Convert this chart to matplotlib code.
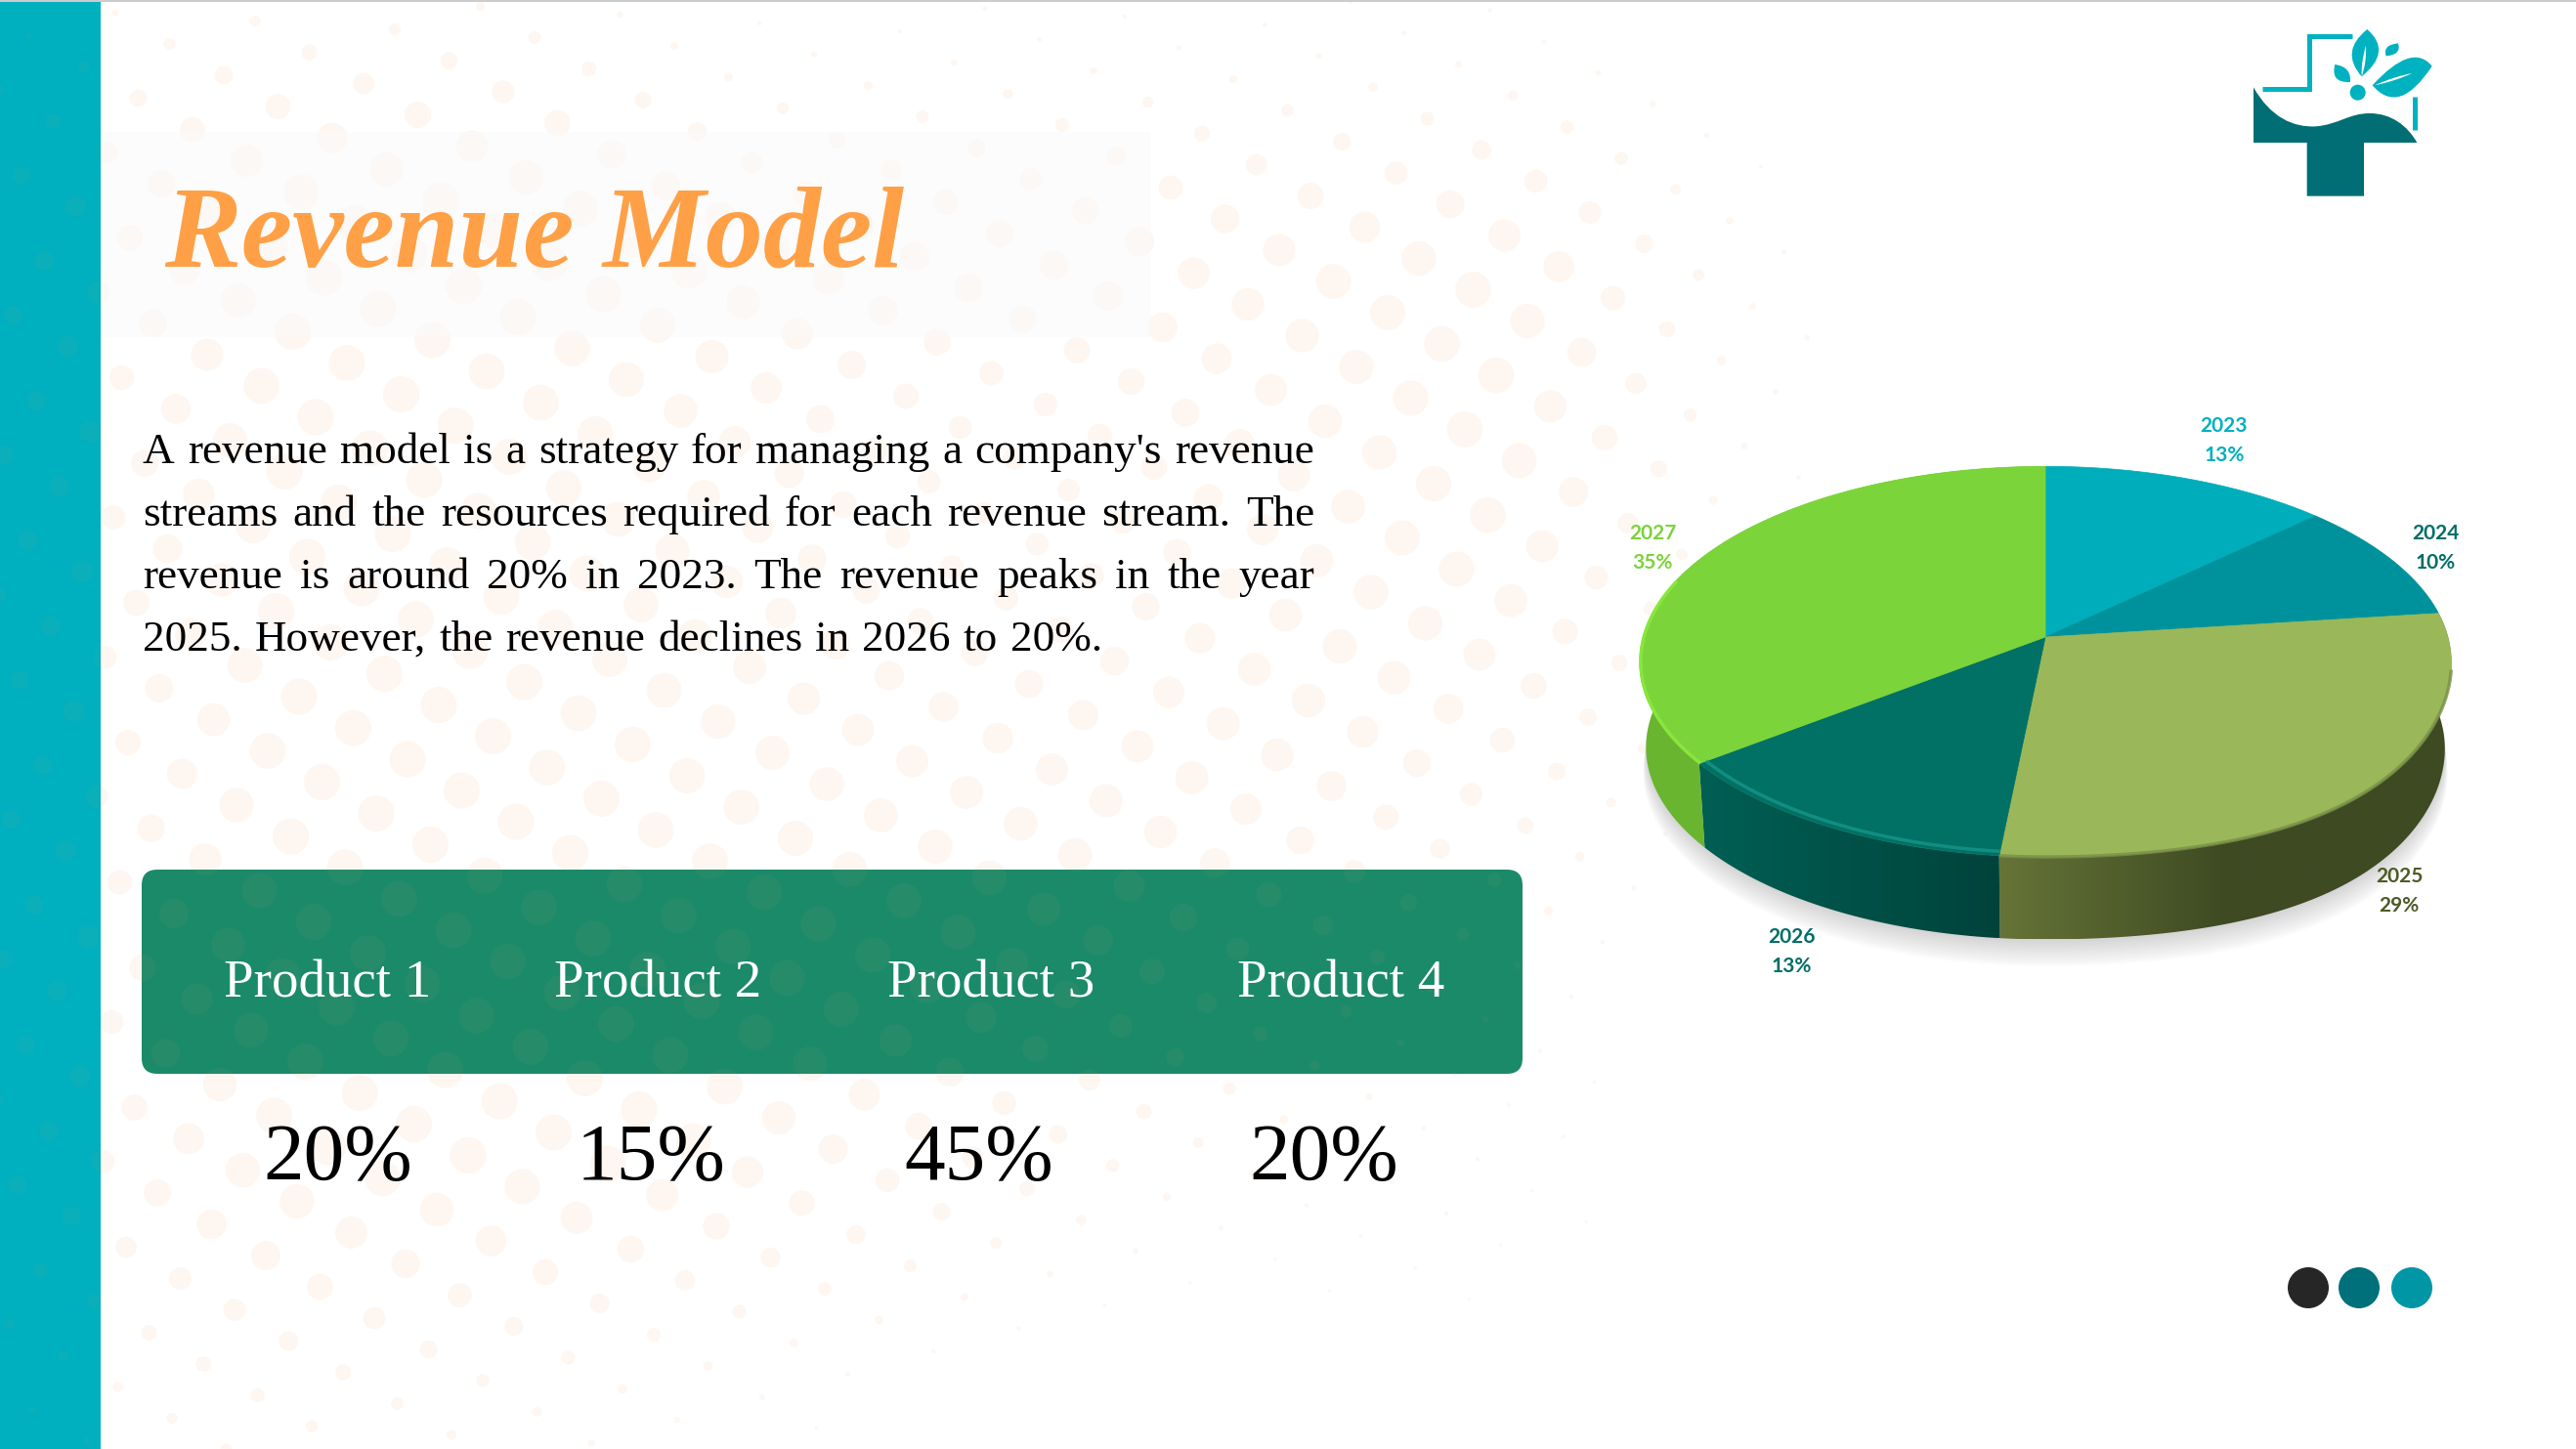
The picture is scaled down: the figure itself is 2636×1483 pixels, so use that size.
import numpy as np
import matplotlib
matplotlib.use("Agg")
import matplotlib.pyplot as plt
from matplotlib.patches import Circle, FancyBboxPatch, Rectangle, PathPatch, Polygon
from matplotlib.path import Path
from matplotlib.collections import PatchCollection
from matplotlib.colors import LinearSegmentedColormap

# data
years = ["2023", "2024", "2025", "2026", "2027"]
shares = [13, 10, 28.6, 13, 35.4]
products = ["Product 1", "Product 2", "Product 3", "Product 4"]
product_values = ["20%", "15%", "45%", "20%"]
body_lines = [
    "A revenue model is a strategy for managing a company's revenue",
    "streams and the resources required for each revenue stream. The",
    "revenue is around 20% in 2023. The revenue peaks in the year",
    "2025. However, the revenue declines in 2026 to 20%.",
]

# styles
top_colors = ["#00AEBB", "#00929C", "#9AB859", "#007164", "#7CD43B"]
label_colors = ["#00B0BF", "#006E66", "#4D5B25", "#006E66", "#7BD33A"]
label_pos = [(2276, 451), (2492, 561), (2455, 912), (1833, 974), (1691, 561)]
wall_colors = [None, None, ["#667438", "#3E4A22", "#3E4A22"], ["#005F54", "#00433B"], ["#6AB52F", "#6AB52F"]]
rim_colors = [None, None, "#7A9048", "#17958A", "#8CEB3E"]
rim_scale = [1, 1, 1.0, 0.98, 0.997]
serif = "Liberation Serif"

W, H = 2636, 1483
fig = plt.figure(figsize=(W / 100, H / 100), dpi=100, facecolor="white")
ax = fig.add_axes([0, 0, 1, 1])
ax.set_xlim(0, W)
ax.set_ylim(H, 0)
ax.axis("off")


def ramp(v, a, b):
    t = np.clip((v - a) / (b - a), 0, 1)
    return t * t * (3 - 2 * t)


# background dots, slanted grid with sizes fading to the edges
dots = []
for i in range(-30, 31):
    for j in range(-30, 31):
        x = 387 + i * 55.5 + j * -32
        y = 316 + i * 32 + j * 55.5
        if x < -40 or y < -40 or x > 1850 or y > H + 40:
            continue
        s = 0.57 * x + 0.82 * y
        r = 18.5
        r *= 0.12 + 0.88 * ramp(y + 80 * (1 - ramp(x, 500, 800)), 20, 300)
        r *= 0.12 + 0.88 * (1 - ramp(s, 1300, 1800))
        r *= 0.15 + 0.85 * (1 - ramp(x, 1520, 1830))
        r *= 0.35 + 0.65 * (1 - ramp(y, 1180, 1480))
        r *= 1 - 0.4 * np.exp(-(np.hypot(x - 1030, y - 500) / 260) ** 2)
        r *= 0.5 + 0.5 * ramp(x, 0, 300)
        if r > 1.5:
            dots.append((x, y, r))
ax.add_collection(PatchCollection([Circle((x, y), r) for x, y, r in dots],
                                  facecolor="#FEF6F0", edgecolor="none", zorder=1))
ax.add_patch(Rectangle((103, 135), 1075, 210, facecolor="#FAFAFA", alpha=0.5, edgecolor="none", zorder=2))

# left bar, top line
bar = Rectangle((0, 0), 103, H, facecolor="#00B0BF", edgecolor="none", zorder=3)
ax.add_patch(bar)
ax.add_patch(Rectangle((0, 0), W, 2, facecolor="#CCCCCC", edgecolor="none", zorder=3))

# product box
box = FancyBboxPatch((145, 890), 1413, 209, boxstyle="round,pad=0,rounding_size=16",
                     facecolor="#1B8A68", edgecolor="none", zorder=3)
ax.add_patch(box)
for clip_patch in (box, bar):
    pc = PatchCollection([Circle((x, y), r) for x, y, r in dots],
                         facecolor="#E8A070", alpha=0.05, edgecolor="none", zorder=3.5)
    ax.add_collection(pc)
    pc.set_clip_path(clip_patch)

# title
ax.text(168, 272, "Revenue Model", family=serif, style="italic", weight="bold",
        fontsize=85, color="#FFA046", va="baseline", ha="left", zorder=5)

# body text, justified word by word
renderer = fig.canvas.get_renderer()
left, right = 146, 1345
baselines = [474, 538, 602, 666]
for n, line in enumerate(body_lines):
    words = line.split(" ")
    items = [ax.text(0, baselines[n], w, family=serif, fontsize=32.5, color="black",
                     va="baseline", ha="left", zorder=5) for w in words]
    widths = [t.get_window_extent(renderer).width for t in items]
    if n < 3:
        gap = (right - left - sum(widths)) / (len(words) - 1)
    else:
        gap = 13
    x = left
    for t, w_ in zip(items, widths):
        t.set_x(x)
        x += w_ + gap

# product table
for name, cx in zip(products, [335, 673, 1014, 1372]):
    ax.text(cx, 1007, name, family=serif, fontsize=39.5, color="white", ha="center", va="center", zorder=5)
for val, cx in zip(product_values, [346, 666, 1002, 1355]):
    ax.text(cx, 1187, val, family=serif, fontsize=60, color="black", ha="center", va="center", zorder=5)

# pie, perspective view of a flat disc
apex_x, apex_y = 2093, 652
f_x, f_y, k = 412, 196.7, 0.126
depth = 88


def project(theta, scale=1.0, dy=0.0):
    xs, ys = np.sin(theta), np.cos(theta)
    # near right part of the rim is a bit fuller than an ellipse
    ys = np.where((ys < 0) & (xs > 0), ys - 0.04 * (2 * xs * ys) ** 2, ys)
    w = 1 + k * ys
    return apex_x + f_x * xs / w * scale, apex_y - f_y * ys / w * scale + dy


edges = np.cumsum([0] + shares) / sum(shares) * 2 * np.pi

# soft shadow
full = np.linspace(0, 2 * np.pi, 360)
for i in range(14):
    sx, sy = project(full, 0.984 + 0.0005 * i, depth + 2 * i)
    ax.fill(sx, sy, color="#777777", alpha=0.022, lw=0, zorder=4)

# side walls
for idx in range(len(shares)):
    if wall_colors[idx] is None:
        continue
    th = np.linspace(edges[idx], edges[idx + 1], 120)
    tx, ty = project(th)
    bx, by = project(th, 0.984, depth)
    poly = np.column_stack([np.r_[tx, bx[::-1]], np.r_[ty, by[::-1]]])
    cmap = LinearSegmentedColormap.from_list("w", wall_colors[idx])
    x0, x1 = poly[:, 0].min(), poly[:, 0].max()
    im = ax.imshow(np.linspace(0, 1, 256).reshape(1, -1), cmap=cmap, aspect="auto",
                   extent=(x0, x1, poly[:, 1].max(), poly[:, 1].min()), zorder=4.2)
    im.set_clip_path(Polygon(poly, closed=True, transform=ax.transData))
ax.set_xlim(0, W)
ax.set_ylim(H, 0)

# top faces
for idx in range(len(shares)):
    th = np.linspace(edges[idx], edges[idx + 1], 200)
    tx, ty = project(th)
    ax.fill(np.r_[apex_x, tx], np.r_[apex_y, ty], color=top_colors[idx], lw=0.5, zorder=4.5)
    if rim_colors[idx] is not None:
        th2 = th[(th > np.pi * 0.55) & (th < np.pi * 1.6)]
        rx, ry = project(th2, rim_scale[idx])
        ax.plot(rx, ry, color=rim_colors[idx], lw=2.5, alpha=0.8, zorder=4.6, solid_capstyle="butt")

# pie labels
for year, share, pos, col in zip(years, shares, label_pos, label_colors):
    ax.text(pos[0], pos[1], f"{year}\n{round(share)}%", family="Lato", weight="bold", fontsize=15,
            color=col, ha="center", va="center", linespacing=1.65, zorder=5)

# page dots
for cx, col in zip([2362, 2414, 2468], ["#262626", "#00707A", "#0096A5"]):
    ax.add_patch(Circle((cx, 1318), 21, facecolor=col, edgecolor="none", zorder=5))


# logo, drawn in the zoomed crop coordinates
def lg(x, y):
    return 2260 + x / 3, y / 3


teal = "#00B2BF"
dark = "#006E74"
wave_pts = [(138, 268), (190, 360), (260, 392), (330, 388), (400, 382), (430, 348), (495, 348),
            (560, 348), (610, 385), (640, 438), (477, 438), (477, 602), (302, 602), (302, 438),
            (138, 438), (138, 268)]
wave_codes = [Path.MOVETO] + [Path.CURVE4] * 9 + [Path.LINETO] * 6
ax.add_patch(PathPatch(Path([lg(*p) for p in wave_pts], wave_codes), facecolor=dark, edgecolor="none", zorder=5))
for seg in ([(440, 110), (310, 110), (310, 273), (165, 273)], [(633, 298), (633, 398)]):
    pts = np.array([lg(*p) for p in seg])
    ax.plot(pts[:, 0], pts[:, 1], color=teal, lw=3.6, solid_joinstyle="miter", solid_capstyle="butt", zorder=5)


def leaf(tip, base, c1, c2, color=teal):
    verts = [lg(*base), lg(*c1), lg(*tip), lg(*c2), lg(*base)]
    codes = [Path.MOVETO, Path.CURVE3, Path.CURVE3, Path.CURVE3, Path.CURVE3]
    ax.add_patch(PathPatch(Path(verts, codes), facecolor=color, edgecolor="none", zorder=5))


leaf((487, 90), (470, 235), (402, 158), (566, 158))
leaf((686, 203), (503, 262), (625, 128), (585, 358))
leaf((388, 198), (435, 252), (439, 205), (373, 255))
leaf((582, 133), (545, 172), (533, 138), (593, 168))
leaf((483, 140), (470, 235), (468, 190), (486, 190), "white")
leaf((625, 225), (510, 262), (570, 235), (570, 250), "white")
ax.add_patch(Circle(lg(458, 284), 8, facecolor=teal, edgecolor="none", zorder=5))

fig.savefig("out.png", dpi=100, facecolor="white")
